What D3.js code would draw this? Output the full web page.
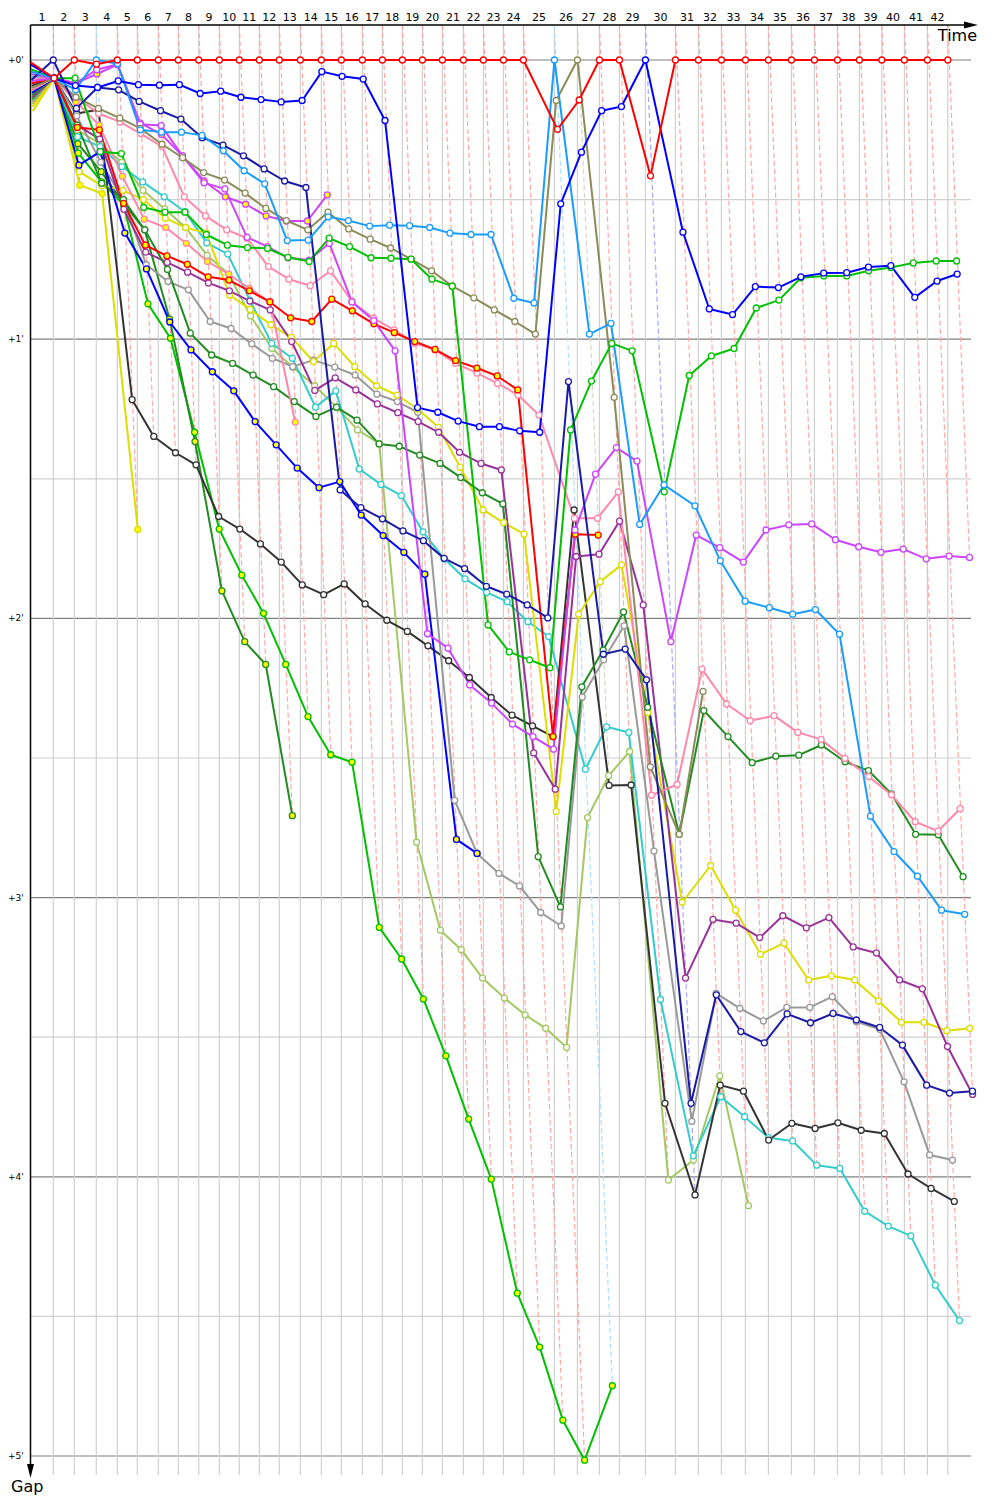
<!DOCTYPE html>
<html>
<head>
<meta charset="utf-8">
<script src="https://cdn.jsdelivr.net/npm/d3@7"></script>
<style>
  body { margin: 0; background: #fff; }
  text { font-family: "DejaVu Sans", sans-serif; }
</style>
</head>
<body>
<script>
'use strict';

(function() {

  // leader lap times in seconds (lap 1 .. 42)
  const lapTimes = [112.1, 103.3, 108.2, 103.3, 98.4, 103.3, 98.4, 100.3, 101.3, 98.4,
    98.4, 98.4, 103.3, 103.3, 98.4, 103.3, 98.4, 98.4, 98.4, 98.4,
    103.3, 98.4, 98.4, 98.4, 152.5, 113.1, 108.2, 98.4, 127.9, 147.5,
    113.1, 113.1, 118.0, 113.1, 113.1, 113.1, 113.1, 108.2, 110.2, 111.1,
    113.1, 100.3];

  // gap to the leader in seconds, index = lap (0 = start)
  const gapRed = [0.5, 3.9, 0, 0.9, 0, 0, 0, 0, 0, 0, 0, 0, 0, 0, 0, 0, 0, 0, 0, 0, 0, 0, 0, 0, 0,
    14.9, 8.6, 0, 0, 24.9, 0, 0, 0, 0, 0, 0, 0, 0, 0, 0, 0, 0, 0];
  const gapLightBlue = [2.5, 3.9, 6.4, 0, 0.8, 15.0, 15.5, 15.5, 16.2, 19.5, 23.8, 26.6, 38.8, 38.7,
    33.7, 34.5, 35.7, 35.5, 35.6, 36.0, 37.2, 37.5, 37.5, 51.2, 52.2, 0, 58.9, 56.6, 99.8, 91.3,
    95.8, 107.6, 116.3, 117.7, 119.1, 118.1, 123.4, 162.5, 170.1, 175.4, 182.7, 183.6];
  const gapBlue = [1.0, 3.9, 5.5, 5.9, 4.5, 5.3, 5.4, 5.3, 7.2, 6.7, 8.0, 8.5, 9.0, 8.7, 2.5, 3.5,
    4.1, 13.0, 74.7, 75.7, 77.6, 78.8, 78.8, 79.7, 80.0, 30.9, 19.8, 10.9, 10.0, 0, 37.0, 53.5,
    54.7, 48.7, 48.9, 46.6, 45.8, 45.7, 44.5, 44.2, 51.0, 47.5, 46.0];
  const gapNavy = [4.3, 0, 10.4, 5.9, 6.4, 8.9, 10.9, 12.7, 16.7, 18.3, 20.6, 23.4, 26.0, 27.4,
    92.4, 96.2, 98.6, 101.2, 103.3, 107.1, 109.3, 113.1, 114.8, 117.1, 119.9, 69.1, 127.7, 126.6,
    133.2, 224.2, 200.9, 208.8, 211.2, 205.0, 206.9, 204.9, 206.3, 207.9, 211.7, 220.3, 222.0, 221.6];
  const gapGreen = [2, 3.9, 3.9, 19.7, 20.1, 31.7, 32.7, 32.7, 37.5, 39.8, 40.3, 40.5, 42.4, 43.3,
    38.3, 40.1, 42.5, 42.6, 42.8, 47.1, 48.6, 121.4, 127.2, 128.9, 130.6, 79.5, 69.0, 60.9, 62.5,
    92.8, 67.8, 63.6, 62.0, 53.3, 51.6, 46.8, 46.4, 46.4, 45.3, 44.6, 43.6, 43.2, 43.2];
  const gapOlive = [6, 3.9, 8, 10.4, 12.5, 14.7, 18.1, 21.0, 24.2, 25.8, 28.6, 31.9, 34.5, 36.5,
    32.7, 36.3, 38.5, 40.4, 42.8, 45.3, 48.6, 51.1, 53.7, 56.2, 58.9, 8.7, 0, 72.5, 151.9, 166.4, 135.7];
  const gapMagenta = [3, 3.9, 5, 2.1, 0.9, 13.8, 14.1, 20.6, 26.4, 27.7, 38.1, 40.1, 42.5, 43.0,
    39.4, 52, 56, 62.5, 123.3, 126.4, 134.3, 138.2, 142.7, 145.4, 148.1, 101, 89.0, 83.3, 86.2,
    125.0, 102.1, 104.8, 107.9, 101.0, 99.9, 99.7, 103.1, 104.6, 105.8, 105.1, 107.2, 106.6, 106.9];
  const gapPink = [4, 3.9, 8, 11.5, 13.3, 15.8, 18.6, 29.4, 33.5, 36.5, 38.3, 44.4, 47.1, 48.5, 45.3,
    51.9, 55.5, 58.0, 60.9, 62.3, 65.2, 67.3, 69.5, 72.0, 76.3, 98.5, 98.5, 92.8, 158, 155.7,
    130.9, 138.4, 142.0, 140.9, 144.5, 146.0, 150.1, 154.0, 157.9, 163.7, 165.7, 160.9];
  const gapPinkY = [6.5, 3.9, 9, 14, 25, 34.2, 36.0, 39.4, 43.3, 46.0, 49.1, 51.9, 77.8];
  const gapRedY = [5, 3.9, 14.5, 15, 30.8, 39.8, 42.1, 43.9, 46.6, 47.3, 49.6, 52.0, 55.4, 56.2,
    51.4, 53.9, 56.7, 58.6, 60.5, 62.2, 64.6, 66.2, 67.9, 70.9, 145.4, 101.9, 102.1];
  const gapBlueY = [7, 3.9, 22.6, 19.7, 37.2, 44.9, 56.3, 62.3, 67.0, 71.1, 77.7, 82.7, 87.7, 91.9,
    90.6, 97.8, 102.2, 105.8, 110.5, 167.5, 170.5];
  const gapPurple = [8, 3.9, 14, 17, 32.1, 41.3, 43.5, 45.6, 47.9, 49.6, 51.8, 53.7, 60.5, 71, 68.3,
    70.9, 73.9, 75.8, 77.7, 80.0, 84.3, 86.7, 88.1, 148.9, 156.7, 106.7, 106.2, 99.1, 117.1, 197.3,
    184.7, 185.5, 188.6, 183.9, 186.5, 184.3, 190.6, 191.9, 197.7, 199.6, 212.0, 222.3];
  const gapGrey = [9, 3.9, 12, 22, 30, 44, 47.6, 49.4, 56.2, 57.7, 61.0, 64.1, 65.9, 64.5, 66, 67.7,
    71.8, 73.4, 75.7, 159.1, 170.5, 174.8, 177.5, 183.2, 186.1, 136.9, 128.9, 121.6, 170, 228.1,
    200.6, 203.8, 206.5, 203.6, 203.6, 201.3, 206.7, 208.3, 219.6, 235.3, 236.4];
  const gapBlack = [5.5, 3.9, 11.5, 10.7, 73.0, 80.9, 84.4, 87.0, 98.1, 100.8, 104.0, 107.9, 112.8,
    114.9, 112.6, 116.9, 120.4, 122.8, 125.9, 129.1, 132.7, 137.0, 140.8, 143.1, 145.4, 96.7, 155.9,
    155.8, 224.2, 243.9, 220.3, 221.6, 232.1, 228.5, 229.6, 228.4, 230.0, 230.7, 239.4, 242.5, 245.3];
  const gapCyan = [3.5, 3.9, 16.5, 18.6, 22.9, 26.2, 29.4, 32.6, 39.3, 41.7, 51.6, 60.9, 64.1, 74.6,
    71.1, 87.9, 91.2, 93.6, 101.4, 107.2, 111.5, 114.4, 116.4, 120.7, 123.9, 152.4, 143.3, 144.5,
    201.9, 235.5, 222.8, 227.1, 231.6, 232.3, 237.5, 238.2, 247.4, 250.6, 252.7, 263.3, 270.9];
  const gapYellow = [10, 3.9, 24, 27, 28, 30, 34, 36, 37.2, 50.5, 53.6, 56.9, 59.6, 64.8, 60.9, 65.9,
    70, 72, 75, 78.9, 87.5, 96.7, 99.4, 101.9, 161.5, 119.1, 112.1, 108.5, 140.2, 181.0, 173.1,
    182.7, 192.2, 189.8, 197.7, 196.8, 197.7, 202.2, 206.8, 206.8, 208.6, 208.1];
  const gapYellowY = [11, 3.9, 26.9, 28.7, 100.9];
  const gapLime = [9.5, 3.9, 15, 18, 22, 28, 32, 36, 42, 46, 55, 62, 66, 70, 74.6, 79.5, 82.4, 168.1,
    187.0, 191.2, 197.3, 201.6, 205.2, 208.1, 212.2, 162.8, 153.8, 148.6, 240.7, 236.4, 218.3, 246.2];
  const gapDarkGreen = [7.5, 3.9, 14, 26.5, 30, 36.5, 45, 58.7, 63.4, 65.2, 67.7, 70.2, 73.4, 76.6,
    74.6, 77.4, 82.5, 83.0, 84.9, 86.7, 89.7, 93.0, 95.4, 171.2, 182.0, 134.7, 126.8, 118.6, 139.1,
    166.4, 139.8, 145.4, 151.0, 149.6, 149.4, 147.2, 150.8, 152.7, 157.7, 166.4, 166.5, 175.5];
  const gapGreenY = [8.5, 3.9, 20, 26.2, 31.2, 52.4, 59.8, 80.0, 100.8, 110.7, 118.9, 129.9, 141.1,
    149.3, 150.9, 186.4, 193.2, 201.8, 214.0, 227.6, 240.5, 265.0, 276.6, 292.3, 300.9, 284.9];
  const gapDarkGreenY = [8, 3.9, 18, 24, 30.8, 36.5, 55.7, 82, 114.1, 125.0, 129.9, 162.4];
  const gapMagentaY = [4.5, 3.9, 5, 3, 1, 13.5, 16, 20.6, 26.0, 29.4, 31.0, 33.5, 34.6, 34.6, 29.0];

  // series drawn last end up on top
  const seriesGaps = [gapGreenY, gapDarkGreenY, gapYellowY, gapLime, gapCyan, gapBlack, gapGrey,
    gapYellow, gapPurple, gapDarkGreen, gapBlueY, gapPinkY, gapPink, gapRedY, gapMagentaY,
    gapMagenta, gapOlive, gapGreen, gapNavy, gapLightBlue, gapBlue, gapRed];
  const seriesColors = ['#00c000', '#228b22', '#dddd00', '#a4c864', '#33cccc', '#333333', '#999999',
    '#dddd00', '#993399', '#228b22', '#0000ff', '#ff88aa', '#ff88aa', '#ff0000', '#cc44ff',
    '#cc44ff', '#8b8b5a', '#00c000', '#1a1aa6', '#1a9cff', '#0000ff', '#ff0000'];
  const seriesYellow = [true, true, true, false, false, false, false,
    false, false, false, true, true, false, true, true,
    false, false, false, false, false, false, false];

  const gapTicks = [0, 60, 120, 180, 240, 300];
  const gapTickLabels = ["+0'", "+1'", "+2'", "+3'", "+4'", "+5'"];

  const svg = d3.select('body').append('svg')
    .attr('width', 1000)
    .attr('height', 1500);
  svg.append('rect').attr('width', 1000).attr('height', 1500).attr('fill', '#fff');

  // cumulative leader time at the end of each lap
  const cumTimes = [0];
  lapTimes.forEach((t, i) => cumTimes.push(cumTimes[i] + t));

  // 1 minute = 12.2 px along time, 279.2 px along gap
  const xScale = d3.scaleLinear().domain([0, 60]).range([30.5, 42.7]);
  const yScale = d3.scaleLinear().domain([0, 300]).range([60, 1456]);
  const top = 25, bottom = 1475, right = 971;

  // horizontal grid (every half minute)
  d3.range(0, 301, 30).forEach((s) => {
    svg.append('line')
      .attr('x1', 30.5).attr('x2', right)
      .attr('y1', yScale(s)).attr('y2', yScale(s))
      .attr('stroke', s % 60 === 0 ? '#808080' : '#d0d0d0')
      .attr('stroke-width', 1.2);
  });
  // vertical grid at the leader's lap times
  for (let n = 1; n < cumTimes.length; n++) {
    svg.append('line')
      .attr('x1', xScale(cumTimes[n])).attr('x2', xScale(cumTimes[n]))
      .attr('y1', top).attr('y2', bottom)
      .attr('stroke', '#d0d0d0')
      .attr('stroke-width', 1.2);
  }

  // dashed lap lines, coloured after the lap leader
  for (let n = 1; n < cumTimes.length; n++) {
    let lead = -1, leadGap = Infinity, maxGap = 0;
    seriesGaps.forEach((g, i) => {
      if (g.length > n) {
        if (g[n] < leadGap) { leadGap = g[n]; lead = i; }
        if (g[n] > maxGap) maxGap = g[n];
      }
    });
    svg.append('line')
      .attr('x1', xScale(cumTimes[n])).attr('y1', top)
      .attr('x2', xScale(cumTimes[n] + maxGap)).attr('y2', yScale(maxGap))
      .attr('stroke', d3.interpolateRgb(seriesColors[lead], '#fff')(0.65))
      .attr('stroke-width', 1.2)
      .attr('stroke-dasharray', '5,3');
  }

  // lap numbers
  for (let n = 1; n < cumTimes.length; n++) {
    svg.append('text')
      .attr('x', (xScale(cumTimes[n - 1]) + xScale(cumTimes[n])) / 2)
      .attr('y', 21)
      .attr('text-anchor', 'middle')
      .style('font-size', '11px')
      .text(n);
  }
  // gap labels
  gapTicks.forEach((s, i) => {
    svg.append('text')
      .attr('x', 8)
      .attr('y', yScale(s) + 3)
      .style('font-size', '9px')
      .text(gapTickLabels[i]);
  });

  // axes with arrows
  svg.append('line').attr('x1', 30.5).attr('x2', 968).attr('y1', top).attr('y2', top)
    .attr('stroke', '#000').attr('stroke-width', 1.5);
  svg.append('path').attr('d', 'M964,21.5L978,25L964,28.5Z').attr('fill', '#000');
  svg.append('line').attr('x1', 30.5).attr('x2', 30.5).attr('y1', top).attr('y2', 1468)
    .attr('stroke', '#000').attr('stroke-width', 1.5);
  svg.append('path').attr('d', 'M27,1464L34,1464L30.5,1478Z').attr('fill', '#000');
  svg.append('text').attr('x', 977).attr('y', 41).attr('text-anchor', 'end')
    .style('font-size', '16px').text('Time');
  svg.append('text').attr('x', 11).attr('y', 1492)
    .style('font-size', '16px').text('Gap');

  // driver lines and lap markers
  const line = d3.line();
  seriesGaps.forEach((g, i) => {
    const pts = g.map((v, lap) => [xScale(cumTimes[lap] + v), yScale(v)]);
    svg.append('path')
      .attr('d', line(pts))
      .attr('fill', 'none')
      .attr('stroke', seriesColors[i])
      .attr('stroke-width', 2)
      .attr('stroke-linejoin', 'round');
  });
  seriesGaps.forEach((g, i) => {
    svg.selectAll(null)
      .data(g.slice(1))
      .enter()
      .append('circle')
        .attr('cx', (v, j) => xScale(cumTimes[j + 1] + v))
        .attr('cy', (v) => yScale(v))
        .attr('r', 3)
        .attr('fill', seriesYellow[i] ? '#ffff00' : '#fff')
        .attr('stroke', seriesColors[i])
        .attr('stroke-width', 1.3);
  });
})();
</script>
</body>
</html>
